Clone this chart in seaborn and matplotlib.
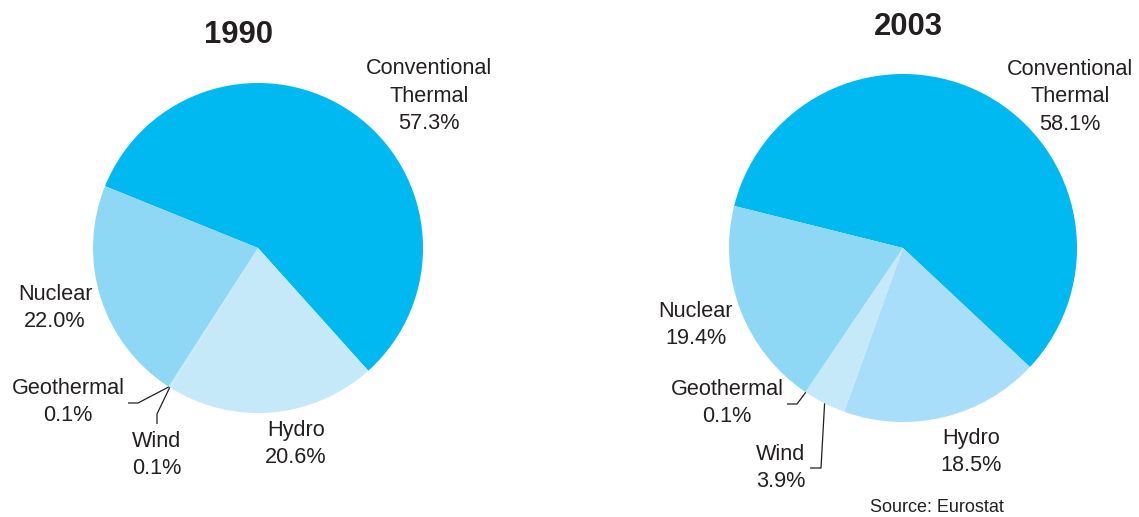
import numpy as np
import matplotlib
matplotlib.use("Agg")
import matplotlib.pyplot as plt
import seaborn as sns

sns.set_theme(style="white")
plt.rcParams["font.family"] = ["Liberation Sans", "DejaVu Sans"]

# Electricity generation by source (share of total, %)
sources = ["Conventional\nThermal", "Hydro", "Wind", "Geothermal", "Nuclear"]
share_1990 = [57.3, 20.6, 0.1, 0.1, 22.0]
share_2003 = [58.1, 18.5, 3.9, 0.1, 19.4]
years = ["1990", "2003"]
source_note = "Source: Eurostat"

colors_1990 = ["#00B9F1", "#C6E9F9", "#C6E9F9", "#B5E3F8", "#8ED8F6"]
colors_2003 = ["#00B9F1", "#A8DEF9", "#C6E9F9", "#B5E3F8", "#8ED8F6"]

W, H = 1139, 517
fig = plt.figure(figsize=(W / 100, H / 100), dpi=100)
ax = fig.add_axes([0, 0, 1, 1])


def Y(y):
    return H - y


LABEL_FS = 15.6
TEXT_COLOR = "#231F20"


def draw_pie(values, colors, center, radius, start):
    wedges, _ = ax.pie(values, colors=colors, startangle=start, counterclock=False,
                       center=(center[0], Y(center[1])), radius=radius,
                       wedgeprops=dict(linewidth=0))
    return wedges


def edge_point(wedge):
    mid = np.deg2rad((wedge.theta1 + wedge.theta2) / 2)
    cx, cy = wedge.center
    return cx + wedge.r * np.cos(mid), cy + wedge.r * np.sin(mid)


def label(x, y, name, value):
    ax.text(x, Y(y), f"{name}\n{value:.1f}%", ha="center", va="center",
            fontsize=LABEL_FS, color=TEXT_COLOR, linespacing=1.38)


def leader(wedge, pts):
    x0, y0 = edge_point(wedge)
    xs = [x0] + [p[0] for p in pts]
    ys = [y0] + [Y(p[1]) for p in pts]
    ax.plot(xs, ys, color=TEXT_COLOR, lw=0.9, solid_capstyle="butt")


# 1990
w1 = draw_pie(share_1990, colors_1990, (258, 248), 165, 158)
# 2003
w2 = draw_pie(share_2003, colors_2003, (903, 248), 174, 166)

# pixel-like coordinate frame for the whole figure
ax.set_xlim(0, W)
ax.set_ylim(0, H)
ax.set_aspect("equal")
ax.axis("off")

ax.text(238, Y(35), years[0], ha="center", va="center", fontsize=22.3,
        fontweight="bold", color=TEXT_COLOR)
label(429, 96, sources[0], share_1990[0])
label(296, 444, sources[1], share_1990[1])
label(157, 455, sources[2], share_1990[2])
label(68, 402, sources[3], share_1990[3])
label(55, 308, sources[4], share_1990[4])
leader(w1[3], [(138, 403), (128, 403)])
leader(w1[2], [(157, 414), (157, 424)])

ax.text(908, Y(27), years[1], ha="center", va="center", fontsize=22.3,
        fontweight="bold", color=TEXT_COLOR)
label(1070, 97, sources[0], share_2003[0])
label(971, 452, sources[1], share_2003[1])
label(781, 468, sources[2], share_2003[2])
label(727, 403, sources[3], share_2003[3])
label(696, 325, sources[4], share_2003[4])
leader(w2[3], [(797, 404), (787, 404)])
leader(w2[2], [(821, 468), (810, 468)])

ax.text(937, Y(508), source_note, ha="center", va="center", fontsize=13,
        color=TEXT_COLOR)

fig.savefig("out.png", dpi=100)
